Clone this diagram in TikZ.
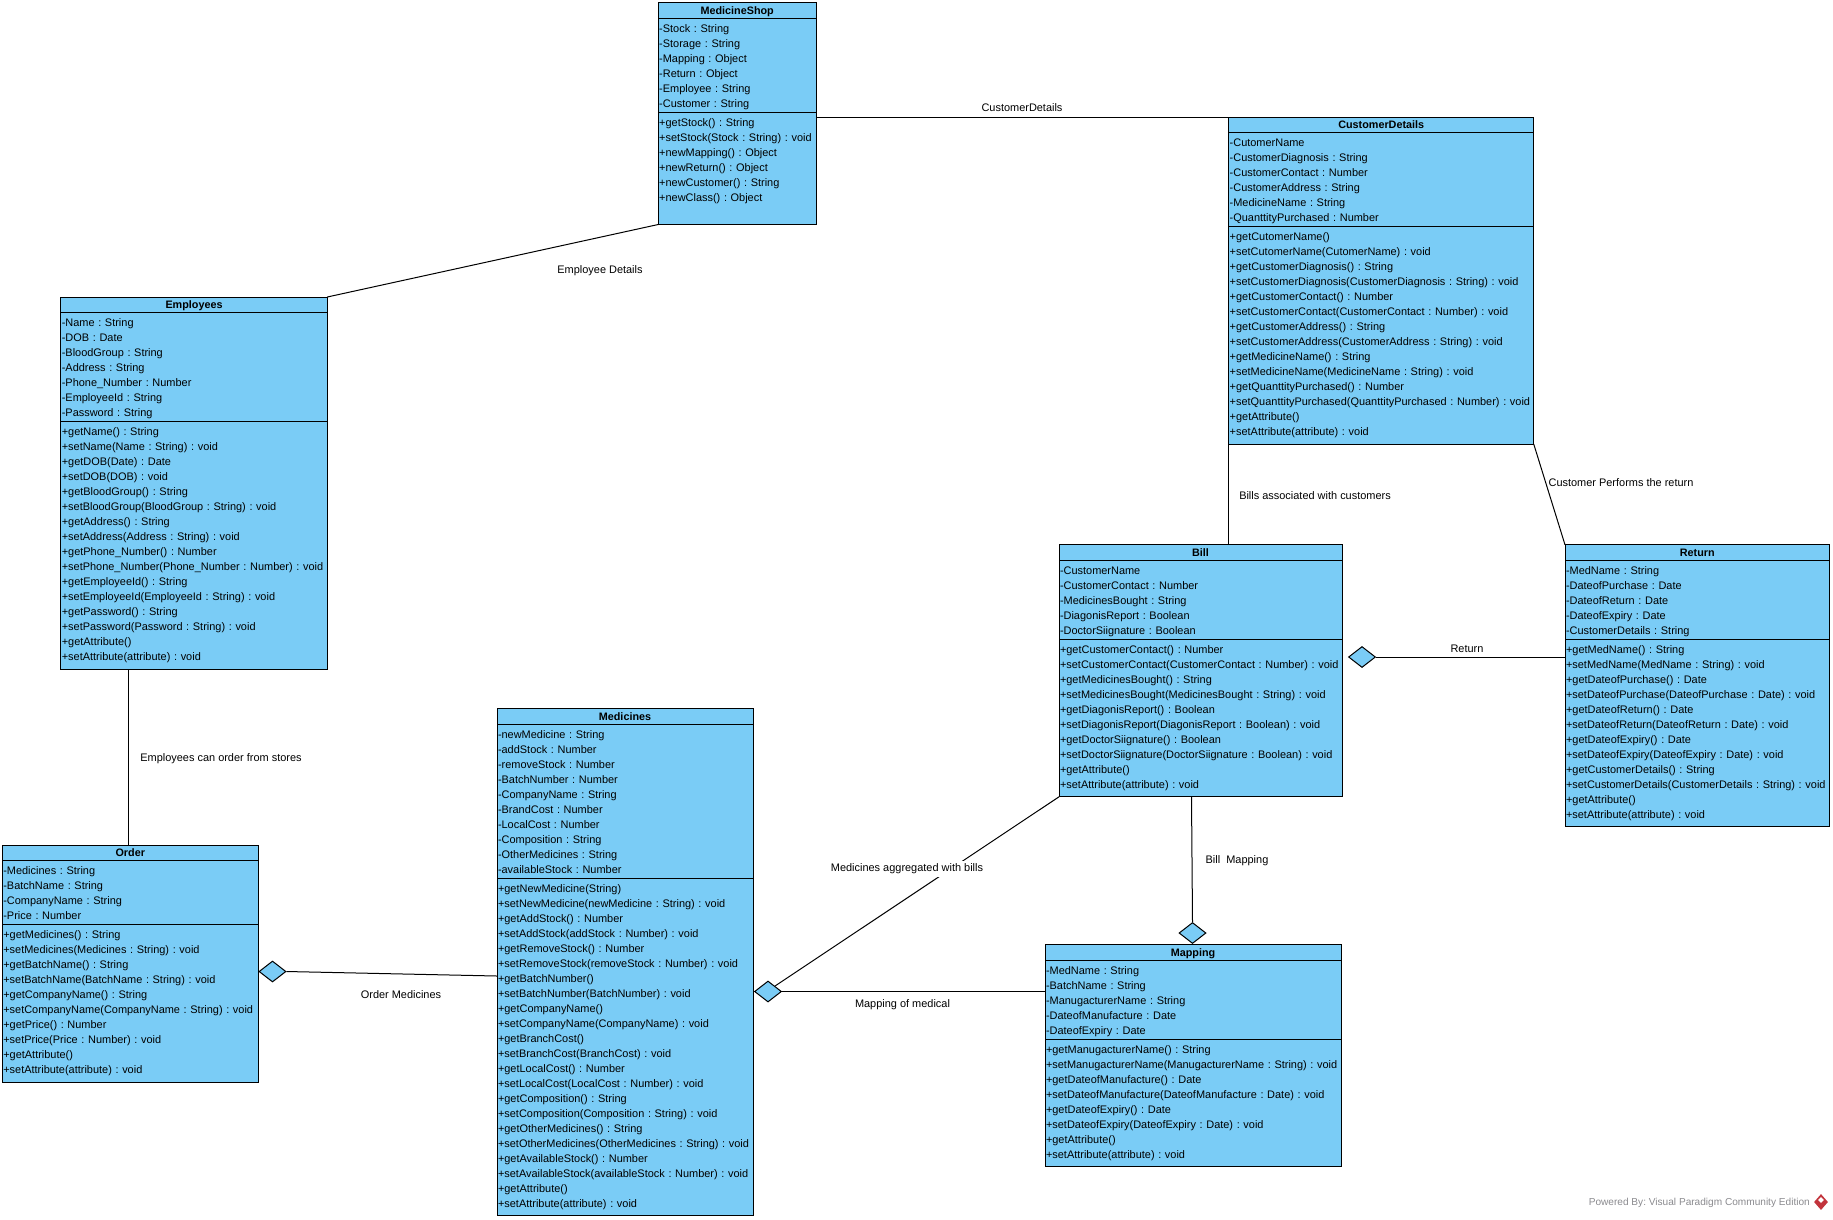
\documentclass[tikz,border=0pt]{standalone}
\usepackage{fontspec}
\setmainfont{Liberation Sans}
\usepackage{xcolor}
\usepackage{tikz}
\usetikzlibrary{positioning,shapes.geometric}
\definecolor{classfill}{HTML}{7ACCF6}
\definecolor{footgray}{HTML}{8A8A8E}
\definecolor{vpred}{HTML}{C2343C}

\begin{document}
\frenchspacing
\begin{tikzpicture}[
  x=1pt, y=-1pt,
  every node/.style={font=\fontsize{10.95}{15}\selectfont, text=black},
  classhead/.style={rectangle, draw=black, line width=1pt, fill=classfill, outer sep=0pt, inner sep=0pt, anchor=north west, minimum height=15.5pt, minimum width=#1, text height=9pt, text depth=1.5pt, font=\fontsize{10.8}{15}\selectfont\bfseries},
  classbody/.style={rectangle, draw=black, line width=1pt, fill=classfill, outer sep=0pt, inner xsep=1pt, inner ysep=2pt, align=left, text width=#1, execute at begin node={\rule{0pt}{12pt}}},
  classattrs/.style={classbody=#1, execute at end node={\rule[-3pt]{0pt}{3pt}}},
  classops/.style={classbody=#1, execute at end node={\rule[-6.5pt]{0pt}{6.5pt}}},
  aggr/.style={diamond, draw=black, line width=1pt, fill=classfill, minimum width=27pt, minimum height=21pt, inner sep=0pt},
  assoc/.style={draw=black, line width=1pt},
  edgelabel/.style={inner sep=0pt}
]
\useasboundingbox (0,0) rectangle (1833,1219);

% shop
\node[classhead=158pt] (shophead) at (658.2,2.5) {MedicineShop};
\node[classattrs=156pt, below=0pt of shophead] (shopattrs) {-Stock : String\\-Storage : String\\-Mapping : Object\\-Return : Object\\-Employee : String\\-Customer : String};
\node[classops=156pt, below=0pt of shopattrs] (shopops) {+getStock() : String\\+setStock(Stock : String) : void\\+newMapping() : Object\\+newReturn() : Object\\+newCustomer() : String\\+newClass() : Object\\};

% customer details
\node[classhead=305pt] (detailshead) at (1228.7,117) {CustomerDetails};
\node[classattrs=303pt, below=0pt of detailshead] (detailsattrs) {-CutomerName\\-CustomerDiagnosis : String\\-CustomerContact : Number\\-CustomerAddress : String\\-MedicineName : String\\-QuanttityPurchased : Number};
\node[classops=303pt, below=0pt of detailsattrs] (detailsops) {+getCutomerName()\\+setCutomerName(CutomerName) : void\\+getCustomerDiagnosis() : String\\+setCustomerDiagnosis(CustomerDiagnosis : String) : void\\+getCustomerContact() : Number\\+setCustomerContact(CustomerContact : Number) : void\\+getCustomerAddress() : String\\+setCustomerAddress(CustomerAddress : String) : void\\+getMedicineName() : String\\+setMedicineName(MedicineName : String) : void\\+getQuanttityPurchased() : Number\\+setQuanttityPurchased(QuanttityPurchased : Number) : void\\+getAttribute()\\+setAttribute(attribute) : void};

% employees
\node[classhead=266.5pt] (empshead) at (60.8,297) {Employees};
\node[classattrs=264.5pt, below=0pt of empshead] (empsattrs) {-Name : String\\-DOB : Date\\-BloodGroup : String\\-Address : String\\-Phone\_Number : Number\\-EmployeeId : String\\-Password : String};
\node[classops=264.5pt, below=0pt of empsattrs] (empsops) {+getName() : String\\+setName(Name : String) : void\\+getDOB(Date) : Date\\+setDOB(DOB) : void\\+getBloodGroup() : String\\+setBloodGroup(BloodGroup : String) : void\\+getAddress() : String\\+setAddress(Address : String) : void\\+getPhone\_Number() : Number\\+setPhone\_Number(Phone\_Number : Number) : void\\+getEmployeeId() : String\\+setEmployeeId(EmployeeId : String) : void\\+getPassword() : String\\+setPassword(Password : String) : void\\+getAttribute()\\+setAttribute(attribute) : void};

% bill
\node[classhead=283pt] (billhead) at (1059,544.8) {Bill};
\node[classattrs=281pt, below=0pt of billhead] (billattrs) {-CustomerName\\-CustomerContact : Number\\-MedicinesBought : String\\-DiagonisReport : Boolean\\-DoctorSiignature : Boolean};
\node[classops=281pt, below=0pt of billattrs] (billops) {+getCustomerContact() : Number\\+setCustomerContact(CustomerContact : Number) : void\\+getMedicinesBought() : String\\+setMedicinesBought(MedicinesBought : String) : void\\+getDiagonisReport() : Boolean\\+setDiagonisReport(DiagonisReport : Boolean) : void\\+getDoctorSiignature() : Boolean\\+setDoctorSiignature(DoctorSiignature : Boolean) : void\\+getAttribute()\\+setAttribute(attribute) : void};

% return
\node[classhead=264.5pt] (returnhead) at (1565,544.8) {Return};
\node[classattrs=262.5pt, below=0pt of returnhead] (returnattrs) {-MedName : String\\-DateofPurchase : Date\\-DateofReturn : Date\\-DateofExpiry : Date\\-CustomerDetails : String};
\node[classops=262.5pt, below=0pt of returnattrs] (returnops) {+getMedName() : String\\+setMedName(MedName : String) : void\\+getDateofPurchase() : Date\\+setDateofPurchase(DateofPurchase : Date) : void\\+getDateofReturn() : Date\\+setDateofReturn(DateofReturn : Date) : void\\+getDateofExpiry() : Date\\+setDateofExpiry(DateofExpiry : Date) : void\\+getCustomerDetails() : String\\+setCustomerDetails(CustomerDetails : String) : void\\+getAttribute()\\+setAttribute(attribute) : void};

% order
\node[classhead=256pt] (orderhead) at (2.3,845) {Order};
\node[classattrs=254pt, below=0pt of orderhead] (orderattrs) {-Medicines : String\\-BatchName : String\\-CompanyName : String\\-Price : Number};
\node[classops=254pt, below=0pt of orderattrs] (orderops) {+getMedicines() : String\\+setMedicines(Medicines : String) : void\\+getBatchName() : String\\+setBatchName(BatchName : String) : void\\+getCompanyName() : String\\+setCompanyName(CompanyName : String) : void\\+getPrice() : Number\\+setPrice(Price : Number) : void\\+getAttribute()\\+setAttribute(attribute) : void};

% medicines
\node[classhead=256pt] (medhead) at (497,708.5) {Medicines};
\node[classattrs=254pt, below=0pt of medhead] (medattrs) {-newMedicine : String\\-addStock : Number\\-removeStock : Number\\-BatchNumber : Number\\-CompanyName : String\\-BrandCost : Number\\-LocalCost : Number\\-Composition : String\\-OtherMedicines : String\\-availableStock : Number};
\node[classops=254pt, below=0pt of medattrs] (medops) {+getNewMedicine(String)\\+setNewMedicine(newMedicine : String) : void\\+getAddStock() : Number\\+setAddStock(addStock : Number) : void\\+getRemoveStock() : Number\\+setRemoveStock(removeStock : Number) : void\\+getBatchNumber()\\+setBatchNumber(BatchNumber) : void\\+getCompanyName()\\+setCompanyName(CompanyName) : void\\+getBranchCost()\\+setBranchCost(BranchCost) : void\\+getLocalCost() : Number\\+setLocalCost(LocalCost : Number) : void\\+getComposition() : String\\+setComposition(Composition : String) : void\\+getOtherMedicines() : String\\+setOtherMedicines(OtherMedicines : String) : void\\+getAvailableStock() : Number\\+setAvailableStock(availableStock : Number) : void\\+getAttribute()\\+setAttribute(attribute) : void};

% mapping
\node[classhead=296pt] (maphead) at (1045,944.6) {Mapping};
\node[classattrs=294pt, below=0pt of maphead] (mapattrs) {-MedName : String\\-BatchName : String\\-ManugacturerName : String\\-DateofManufacture : Date\\-DateofExpiry : Date};
\node[classops=294pt, below=0pt of mapattrs] (mapops) {+getManugacturerName() : String\\+setManugacturerName(ManugacturerName : String) : void\\+getDateofManufacture() : Date\\+setDateofManufacture(DateofManufacture : Date) : void\\+getDateofExpiry() : Date\\+setDateofExpiry(DateofExpiry : Date) : void\\+getAttribute()\\+setAttribute(attribute) : void};

% diamonds
\node[aggr] (orderdiam) at (272.5,971.5) {};
\node[aggr] (billdiam) at (1362,657) {};
\node[aggr] (meddiam) at (768,991.5) {};
\node[aggr] (mapdiam) at (1192.5,933) {};

\draw[assoc] (shopops.north east |- detailshead.north west) -- (detailshead.north west);
\draw[assoc] (empshead.north east) -- (shopops.south west);
\draw[assoc] (detailsops.south west) -- (detailsops.south west |- billhead.north);
\draw[assoc] (detailsops.south east) -- (returnhead.north west);
\draw[assoc] (returnops.north west |- billdiam.east) -- (billdiam.east);
\draw[assoc] ([xshift=-9pt]billops.south) -- (mapdiam.north);
\draw[assoc] (billops.south west) -- (meddiam.north east);
\draw[assoc] (mapattrs.west |- meddiam.east) -- (meddiam.east);
\draw[assoc] ([yshift=-98pt]medops.north west) -- (orderdiam.east);
\draw[assoc] ([xshift=-1.5pt]orderhead.north) -- ([xshift=-1.5pt]orderhead.north |- empsops.south);

\node[edgelabel] (shoplabel) at (1022,107.5) {CustomerDetails};
\node[edgelabel] (emplabel) at (600,271) {Employee Details};
\node[edgelabel] (billlabel) at (1315,496) {Bills associated with customers};
\node[edgelabel] (returnlabel) at (1621,482.5) {Customer Performs the return};
\node[edgelabel] (aggrlabel) at (1467,648.5) {Return};
\node[edgelabel] (mappinglabel) at (1237,861) {Bill~~Mapping};
\node[edgelabel, fill=white, minimum height=16pt] (boughtlabel) at (907,869) {Medicines aggregated with bills};
\node[edgelabel] (medicallabel) at (902.5,1005) {Mapping of medical};
\node[edgelabel] (orderlabel) at (401,994.5) {Order Medicines};
\node[edgelabel] (storelabel) at (221,758.5) {Employees can order from stores};

% footer
\node[edgelabel, anchor=east, text=footgray, font=\fontsize{10.1}{12}\selectfont] (footer) at (1810,1202.5) {Powered By: Visual Paradigm Community Edition};
\node[diamond, fill=vpred, minimum width=14pt, minimum height=16pt, inner sep=0pt] (vplogo) at (1821,1202) {};
\node[diamond, fill=white, minimum width=6pt, minimum height=6pt, inner sep=0pt, yshift=2pt] (vpmark) at (vplogo.center) {};
\end{tikzpicture}
\end{document}
